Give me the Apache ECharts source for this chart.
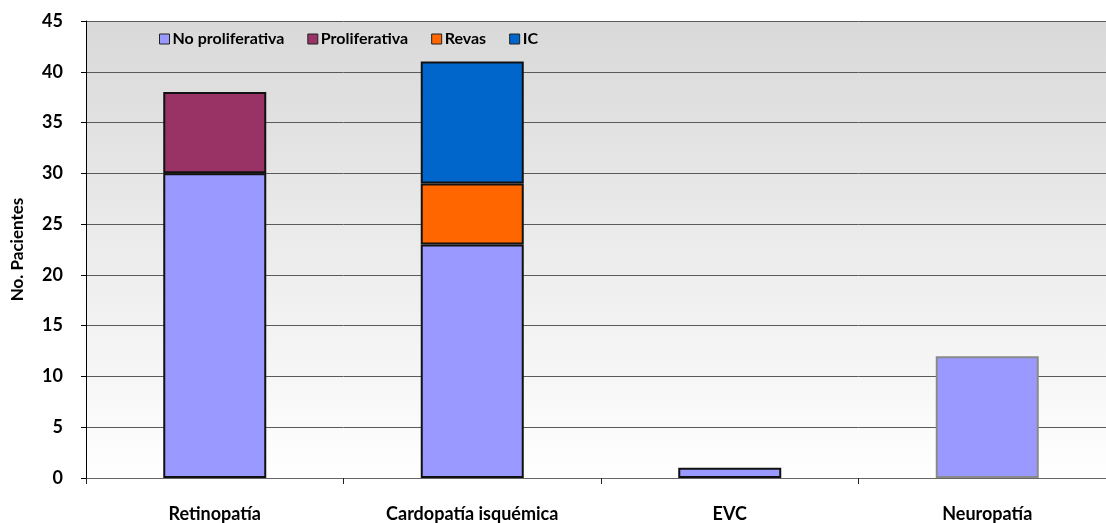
<!DOCTYPE html>
<html>
<head>
<meta charset="utf-8">
<script src="https://cdn.jsdelivr.net/npm/echarts@6/dist/echarts.min.js"></script>
<style>
html,body{margin:0;padding:0;background:#fff;overflow:hidden;width:1106px;height:523px;}
#chart{width:1116px;height:523px;}
</style>
</head>
<body>
<div id="chart"></div>
<script>
const categories = ['Retinopatía', 'Cardopatía isquémica', 'EVC', 'Neuropatía'];
const noProliferativa = [30, 23, 1, 12];
const proliferativa = [8, null, null, null];
const revas = [null, 6, null, null];
const ic = [null, 12, null, null];
const yTicks = [0, 5, 10, 15, 20, 25, 30, 35, 40, 45];

const FONT = 'Lato';
const chart = echarts.init(document.getElementById('chart'));

function mk(name, data, color) {
  return {
    name: name, type: 'bar', stack: 'total', barWidth: 103,
    data: data.map(function (v, i) {
      if (v === null) return '-';
      if (name === 'No proliferativa' && i === 3) {
        return { value: v, itemStyle: { borderColor: '#8a8a8a' } };
      }
      return v;
    }),
    itemStyle: { color: color, borderColor: '#111', borderWidth: 2 },
    emphasis: { disabled: true }
  };
}

chart.setOption({
  animation: false,
  textStyle: { fontFamily: FONT },
  grid: {
    left: 86, top: 21, right: 0, bottom: 45,
    show: true, borderWidth: 0,
    backgroundColor: {
      type: 'linear', x: 0, y: 0, x2: 0, y2: 1,
      colorStops: [{ offset: 0, color: '#d9d9d9' }, { offset: 1, color: '#ffffff' }]
    }
  },
  legend: {
    left: 154, top: 26,
    itemWidth: 10, itemHeight: 10, itemGap: 23,
    icon: 'rect',
    itemStyle: { borderColor: '#222', borderWidth: 1 },
    textStyle: { fontFamily: FONT, fontWeight: 'bold', fontSize: 16, color: '#000', padding: [0, 0, 0, -2] },
    data: ['No proliferativa', 'Proliferativa', 'Revas', 'IC']
  },
  xAxis: {
    type: 'category', data: categories,
    axisLine: { lineStyle: { color: '#666', width: 1 } },
    axisTick: { show: true, length: 6, lineStyle: { color: '#222' } },
    axisLabel: { margin: 27, fontFamily: FONT, fontWeight: 'bold', fontSize: 18, color: '#000' }
  },
  yAxis: {
    type: 'value', min: 0, max: 45, interval: 5,
    name: 'No. Pacientes', nameLocation: 'middle', nameGap: 60, nameRotate: 90,
    nameTextStyle: { fontFamily: FONT, fontWeight: 'bold', fontSize: 17, color: '#000' },
    axisLine: { show: true, lineStyle: { color: '#000', width: 1 } },
    axisTick: { show: true, length: 5, lineStyle: { color: '#000' } },
    axisLabel: { margin: 23, fontFamily: FONT, fontWeight: 'bold', fontSize: 18, color: '#000',
      formatter: function (v) { return yTicks.indexOf(v) >= 0 ? String(v) : ''; } },
    splitLine: { show: true, lineStyle: { color: '#5a5a5a', width: 1 } }
  },
  series: [
    mk('No proliferativa', noProliferativa, '#9999ff'),
    mk('Proliferativa', proliferativa, '#993366'),
    mk('Revas', revas, '#ff6600'),
    mk('IC', ic, '#0066cc')
  ]
});
</script>
</body>
</html>
